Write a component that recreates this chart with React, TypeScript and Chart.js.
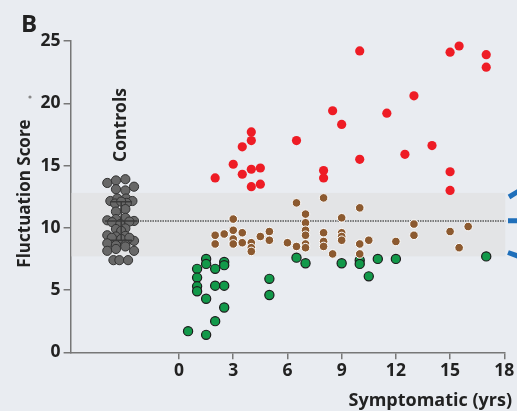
import React, { useEffect, useRef } from "react";
import { Chart, registerables } from "chart.js";

Chart.register(...registerables);

// ---- data ----
const xTickValues = [0, 3, 6, 9, 12, 15, 18];
const yTickValues = [0, 5, 10, 15, 20, 25];

const controlsX = [
  -3.97, -3.49, -2.97, -3.49, -2.97, -2.49, -3.8, -3.41, -2.93, -2.58, -3.54, -2.89, -3.2,
  -3.49, -2.97, -3.97, -3.49, -2.97, -2.49, -3.7, -3.25, -2.75, -3.49, -2.97, -3.2,
  -3.97, -3.49, -2.97, -2.49, -3.72, -3.2, -2.75, -3.97, -3.49, -2.97,
  -3.97, -3.49, -2.97, -2.49, -3.63, -3.3, -2.82,
];
const controlsY = [
  13.6, 13.8, 13.9, 13.1, 13.0, 13.3, 12.15, 12.35, 12.35, 12.15, 11.95, 12.0, 12.1,
  11.3, 11.5, 10.6, 10.7, 10.8, 10.55, 10.45, 10.3, 10.5, 9.9, 9.95, 9.75,
  9.4, 9.3, 9.35, 8.95, 9.2, 9.1, 9.2, 8.75, 8.6, 8.65,
  8.15, 8.3, 8.5, 8.15, 7.4, 7.4, 7.4,
];

const redX = [2, 3, 3.5, 3.5, 4, 4, 4, 4, 4.5, 4.5, 6.5, 8, 8, 8.5, 9, 10, 10, 11.5, 12.5, 13, 14, 15, 15, 15, 15.5, 17, 17];
const redY = [14.0, 15.1, 16.5, 14.3, 17.7, 17.0, 14.7, 13.3, 14.8, 13.5, 17.0, 14.6, 14.0, 19.4, 18.3, 24.2, 15.5, 19.2, 15.9, 20.6, 16.6, 24.1, 14.5, 13.0, 24.6, 23.9, 22.9];

const brownX = [6.5, 8, 7, 3, 9, 7, 2, 2.5, 3, 3.5, 5, 4.5, 5, 3, 3, 2, 3.5, 4, 4, 4, 6, 6.5, 7, 7, 7, 7, 8, 8, 8, 8.5, 9, 9, 9, 10, 10, 10, 10.5, 12, 13, 13, 15, 16, 15.5];
const brownY = [12.0, 12.4, 11.1, 10.7, 10.8, 10.4, 9.4, 9.5, 9.8, 9.6, 9.7, 9.3, 9.0, 9.1, 8.7, 8.7, 8.8, 8.8, 8.4, 8.1, 8.8, 8.5, 9.8, 9.4, 8.7, 8.4, 9.6, 8.9, 8.5, 7.9, 9.6, 9.3, 9.0, 11.6, 8.7, 7.9, 9.0, 8.9, 10.3, 9.4, 9.7, 10.1, 8.4];

const greenX = [0.5, 1, 1, 1, 1, 1.5, 1.5, 1.5, 1.5, 2, 2, 2, 2.5, 2.5, 2.5, 2.5, 5, 5, 6.5, 7, 9, 10, 10, 10.5, 11, 12, 17];
const greenY = [1.7, 6.7, 6.0, 5.3, 4.9, 7.5, 7.1, 4.3, 1.4, 6.7, 5.35, 2.5, 7.25, 7.0, 5.35, 3.6, 5.9, 4.6, 7.6, 7.15, 7.15, 7.4, 7.1, 6.1, 7.5, 7.5, 7.7];

const controlsCenter = -3.2;
const controlsMean = 10.55;
const controlsSD = 1.55;
const bandLow = 7.7;
const bandHigh = 12.8;
const xMin = -6;
const xMax = 18;

const toPts = (xs: number[], ys: number[]) => xs.map((x, i) => ({ x, y: ys[i] }));

const FONT = "'Open Sans', 'DejaVu Sans', sans-serif";

const decorPlugin = {
  id: "decor",
  beforeDraw(chart: any) {
    const { ctx, width, height } = chart;
    ctx.save();
    ctx.fillStyle = "#e9ecf1";
    ctx.fillRect(0, 0, width, height);
    ctx.restore();
  },
  beforeDatasetsDraw(chart: any) {
    const { ctx, scales } = chart;
    const xs = scales.x, ys = scales.y;
    ctx.save();
    const x0 = xs.getPixelForValue(xMin) + 1;
    const x1 = xs.getPixelForValue(xMax) + 1;
    const yTop = ys.getPixelForValue(bandHigh);
    const yBot = ys.getPixelForValue(bandLow);
    ctx.fillStyle = "#e3e4e6";
    ctx.fillRect(x0, yTop, x1 - x0, yBot - yTop);
    ctx.strokeStyle = "#555";
    ctx.lineWidth = 1.5;
    ctx.setLineDash([1.5, 1]);
    const ym = ys.getPixelForValue(controlsMean);
    ctx.beginPath();
    ctx.moveTo(xs.getPixelForValue(controlsCenter + 0.9), ym);
    ctx.lineTo(x1, ym);
    ctx.stroke();
    ctx.restore();
  },
  afterDatasetsDraw(chart: any) {
    const { ctx, scales } = chart;
    const xs = scales.x, ys = scales.y;
    ctx.save();
    ctx.strokeStyle = "#3a3a3a";
    ctx.lineWidth = 1.5;
    const cx = xs.getPixelForValue(controlsCenter);
    const yHi = ys.getPixelForValue(controlsMean + controlsSD);
    const yLo = ys.getPixelForValue(controlsMean - controlsSD);
    const ym = ys.getPixelForValue(controlsMean);
    const capW = xs.getPixelForValue(controlsCenter + 0.6) - cx;
    const meanW = xs.getPixelForValue(controlsCenter + 0.9) - cx;
    ctx.beginPath();
    ctx.moveTo(cx, yHi); ctx.lineTo(cx, yLo);
    ctx.moveTo(cx - capW, yHi); ctx.lineTo(cx + capW, yHi);
    ctx.moveTo(cx - capW, yLo); ctx.lineTo(cx + capW, yLo);
    ctx.moveTo(cx - meanW, ym); ctx.lineTo(cx + meanW, ym);
    ctx.stroke();
    ctx.restore();
  },
  afterDraw(chart: any) {
    const { ctx } = chart;
    ctx.save();
    ctx.fillStyle = "#222";
    ctx.font = `bold 24px ${FONT}`;
    ctx.textAlign = "left";
    ctx.textBaseline = "alphabetic";
    ctx.fillText("B", 21, 32);
    ctx.save();
    ctx.translate(25, 193.5);
    ctx.rotate(-Math.PI / 2);
    ctx.font = `bold 17px ${FONT}`;
    ctx.textAlign = "center";
    ctx.textBaseline = "middle";
    ctx.fillText("Fluctuation Score", 0, 0);
    ctx.restore();
    ctx.fillStyle = "#888";
    ctx.beginPath();
    ctx.arc(30, 97, 1.6, 0, Math.PI * 2);
    ctx.fill();
    ctx.fillStyle = "#222";
    ctx.save();
    ctx.translate(121, 125);
    ctx.rotate(-Math.PI / 2);
    ctx.font = `bold 17.5px ${FONT}`;
    ctx.textAlign = "center";
    ctx.textBaseline = "middle";
    ctx.fillText("Controls", 0, 0);
    ctx.restore();
    ctx.font = `bold 18px ${FONT}`;
    ctx.textAlign = "right";
    ctx.textBaseline = "middle";
    ctx.fillText("Symptomatic (yrs)", 512, 401);
    ctx.strokeStyle = "#1f6fba";
    ctx.lineWidth = 5;
    ctx.beginPath();
    ctx.moveTo(509, 197); ctx.lineTo(519, 191);
    ctx.moveTo(508, 220.7); ctx.lineTo(519, 220.7);
    ctx.moveTo(508, 252.5); ctx.lineTo(519, 256.5);
    ctx.stroke();
    ctx.restore();
  },
};

export default function App() {
  const ref = useRef<HTMLCanvasElement | null>(null);
  useEffect(() => {
    if (!ref.current) return;
    const tickFont = { family: FONT, size: 17.5, weight: "bold" as const };
    const chart = new Chart(ref.current, {
      type: "scatter",
      data: {
        datasets: [
          {
            label: "Controls",
            data: toPts(controlsX, controlsY),
            backgroundColor: "#686868",
            borderColor: "#333",
            borderWidth: 1,
            pointRadius: 4.6,
          },
          {
            label: "Fast",
            data: toPts(redX, redY),
            backgroundColor: "#ee1c25",
            borderColor: "#ee1c25",
            borderWidth: 0,
            pointRadius: 4.6,
          },
          {
            label: "Typical",
            data: toPts(brownX, brownY),
            backgroundColor: "#8c5a30",
            borderColor: "#ffffff",
            borderWidth: 1,
            pointRadius: 4.3,
          },
          {
            label: "Slow",
            data: toPts(greenX, greenY),
            backgroundColor: "#12994a",
            borderColor: "#1c1c1c",
            borderWidth: 1.2,
            pointRadius: 4.6,
          },
        ],
      },
      options: {
        animation: false,
        responsive: false,
        layout: { padding: { top: 41, right: 12.7, left: 0, bottom: 0 } },
        plugins: { legend: { display: false }, tooltip: { enabled: false } },
        scales: {
          x: {
            type: "linear",
            min: xMin,
            max: xMax,
            afterBuildTicks: (scale: any) => {
              scale.ticks = xTickValues.map((v) => ({ value: v }));
            },
            afterFit: (scale: any) => {
              scale.height = 58.7;
            },
            ticks: {
              color: "#222",
              font: tickFont,
              padding: 1,
              maxRotation: 0,
              autoSkip: false,
              callback: (v: any) => String(v),
            },
            grid: { display: true, drawOnChartArea: false, drawTicks: true, tickLength: 7, color: "#777", lineWidth: 1.5 },
            border: { display: true, color: "#777", width: 1.5 },
          },
          y: {
            type: "linear",
            min: 0,
            max: 25,
            afterBuildTicks: (scale: any) => {
              scale.ticks = yTickValues.map((v) => ({ value: v }));
            },
            afterFit: (scale: any) => {
              scale.width = 70.6;
            },
            ticks: {
              color: "#222",
              font: tickFont,
              padding: 3,
              autoSkip: false,
              callback: (v: any) => String(v),
            },
            grid: { display: true, drawOnChartArea: false, drawTicks: true, tickLength: 7, color: "#777", lineWidth: 1.5 },
            border: { display: true, color: "#777", width: 1.5 },
          },
        },
      },
      plugins: [decorPlugin],
    });
    return () => chart.destroy();
  }, []);
  return (
    <div style={{ position: "absolute", left: 0, top: 0, width: 517, height: 411 }}>
      <canvas ref={ref} width={517} height={411} style={{ display: "block", width: 517, height: 411 }} />
    </div>
  );
}
